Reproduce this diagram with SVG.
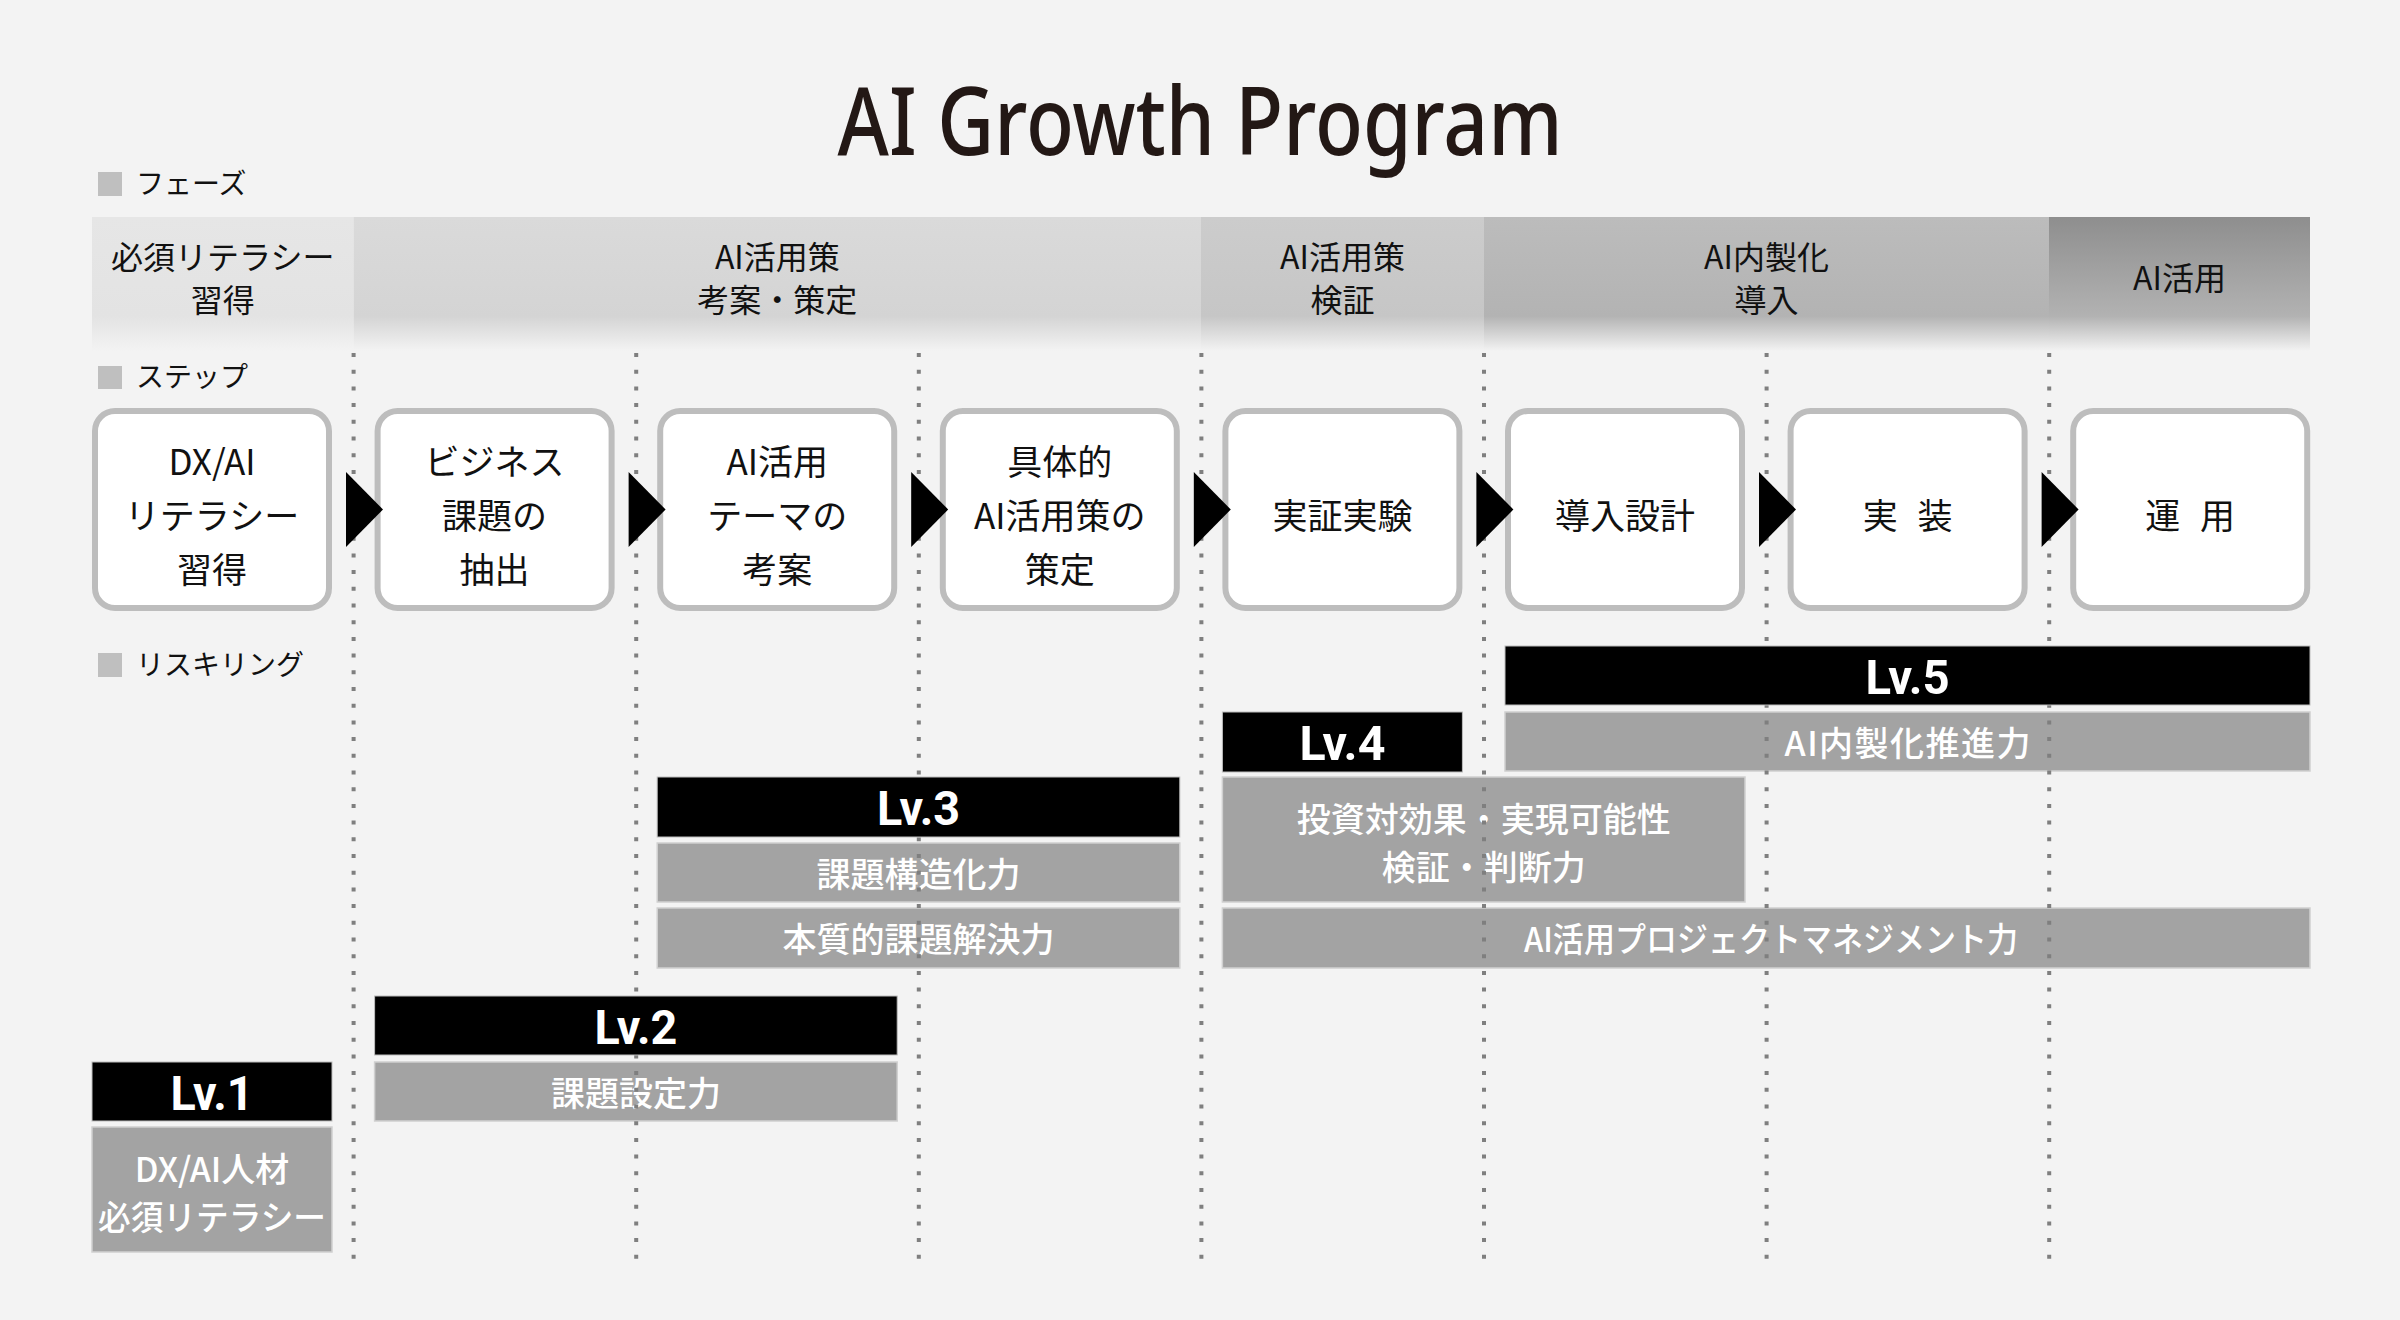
<svg xmlns="http://www.w3.org/2000/svg" width="2400" height="1320" viewBox="0 0 2400 1320">
<defs>
<linearGradient id="g1" x1="0" y1="0" x2="0" y2="1"><stop offset="0" stop-color="#e6e6e6"/><stop offset="0.74" stop-color="#e3e3e3"/><stop offset="1" stop-color="#f3f3f3"/></linearGradient>
<linearGradient id="g2" x1="0" y1="0" x2="0" y2="1"><stop offset="0" stop-color="#dadada"/><stop offset="0.74" stop-color="#d4d4d4"/><stop offset="1" stop-color="#f3f3f3"/></linearGradient>
<linearGradient id="g3" x1="0" y1="0" x2="0" y2="1"><stop offset="0" stop-color="#cccccc"/><stop offset="0.74" stop-color="#c6c6c6"/><stop offset="1" stop-color="#f3f3f3"/></linearGradient>
<linearGradient id="g4" x1="0" y1="0" x2="0" y2="1"><stop offset="0" stop-color="#bcbcbc"/><stop offset="0.74" stop-color="#b3b3b3"/><stop offset="1" stop-color="#f3f3f3"/></linearGradient>
<linearGradient id="g5" x1="0" y1="0" x2="0" y2="1"><stop offset="0" stop-color="#8e8e8e"/><stop offset="0.74" stop-color="#b2b2b2"/><stop offset="1" stop-color="#f3f3f3"/></linearGradient>
<style>
.jp{font-family:"Noto Sans CJK JP","Noto Sans",sans-serif}
.lbl{font-size:28px;fill:#111}
.sq{fill:#bfbfbf}
.band{font-size:32px;fill:#111;text-anchor:middle}
.step{font-size:35px;fill:#111;text-anchor:middle}
.box{fill:#fff;stroke:#bdbdbd;stroke-width:6}
.arr{fill:#000}
.lv{fill:#000;stroke:#bdbdbd;stroke-width:1}
.lvt{font-family:Roboto,"Liberation Sans",sans-serif;font-weight:700;font-size:49px;fill:#fff;text-anchor:middle}
.sk{fill:#a3a3a3;stroke:#d0d0d0;stroke-width:1.5}
.skt{font-size:34px;fill:#fff;text-anchor:middle;font-weight:500}
.dot{stroke:#7f7f7f;stroke-width:4;stroke-dasharray:4 12.7;fill:none}
</style>
</defs>
<rect x="0" y="0" width="2400" height="1320" fill="#f3f3f3"/>

<text x="1200" y="155" text-anchor="middle" font-family="'Noto Sans','Open Sans',sans-serif" font-weight="500" font-size="94" fill="#231815" textLength="725" lengthAdjust="spacingAndGlyphs">AI Growth Program</text>

<g id="label-phase"><rect class="sq" x="98" y="172" width="24" height="24"/><text class="jp lbl" x="136" y="194">フェーズ</text></g>
<g id="label-step"><rect class="sq" x="98" y="366" width="24" height="23"/><text class="jp lbl" x="136" y="387">ステップ</text></g>
<g id="label-reskill"><rect class="sq" x="98" y="653" width="24" height="24"/><text class="jp lbl" x="136" y="675">リスキリング</text></g>

<g id="phases">
<g id="phase1"><rect x="92" y="217" width="261.6" height="134" fill="url(#g1)"/><text class="jp band" x="222.8" y="269">必須リテラシー</text><text class="jp band" x="222.8" y="312">習得</text></g>
<g id="phase2"><rect x="353.6" y="217" width="847.4" height="134" fill="url(#g2)"/><text class="jp band" x="777.3" y="269">AI活用策</text><text class="jp band" x="777.3" y="312">考案・策定</text></g>
<g id="phase3"><rect x="1201" y="217" width="283" height="134" fill="url(#g3)"/><text class="jp band" x="1342.5" y="269">AI活用策</text><text class="jp band" x="1342.5" y="312">検証</text></g>
<g id="phase4"><rect x="1484" y="217" width="565" height="134" fill="url(#g4)"/><text class="jp band" x="1766.5" y="269">AI内製化</text><text class="jp band" x="1766.5" y="312">導入</text></g>
<g id="phase5"><rect x="2049" y="217" width="261" height="134" fill="url(#g5)"/><text class="jp band" x="2179.5" y="290">AI活用</text></g>
</g>

<g id="skill-bars">
<g id="lv1-skill"><rect class="sk" x="92" y="1127" width="240" height="125"/><text class="jp skt" x="212" y="1182" font-size="32">DX/AI人材</text><text class="jp skt" x="212" y="1230" font-size="32" textLength="228" lengthAdjust="spacingAndGlyphs">必須リテラシー</text></g>
<g id="lv2-skill"><rect class="sk" x="374.6" y="1062" width="522.6" height="59"/><text class="jp skt" x="635.9" y="1106">課題設定力</text></g>
<g id="lv3-skill1"><rect class="sk" x="657.2" y="843" width="522.6" height="59"/><text class="jp skt" x="918.5" y="887">課題構造化力</text></g>
<g id="lv3-skill2"><rect class="sk" x="657.2" y="908" width="522.6" height="60"/><text class="jp skt" x="918.5" y="952">本質的課題解決力</text></g>
<g id="lv4-skill"><rect class="sk" x="1222.4" y="777" width="522.6" height="125"/><text class="jp skt" x="1483.7" y="832">投資対効果・実現可能性</text><text class="jp skt" x="1483.7" y="880">検証・判断力</text></g>
<g id="lv5-skill"><rect class="sk" x="1505" y="712" width="805" height="59"/><text class="jp skt" x="1907.5" y="756" textLength="246" lengthAdjust="spacing">AI内製化推進力</text></g>
<g id="pm-skill"><rect class="sk" x="1222.4" y="908" width="1087.6" height="60"/><text class="jp skt" x="1771" y="952" textLength="494" lengthAdjust="spacingAndGlyphs">AI活用プロジェクトマネジメント力</text></g>
</g>

<g id="dividers">
<line class="dot" x1="353.6" y1="353" x2="353.6" y2="1262"/>
<line class="dot" x1="636.2" y1="353" x2="636.2" y2="1262"/>
<line class="dot" x1="918.8" y1="353" x2="918.8" y2="1262"/>
<line class="dot" x1="1201.4" y1="353" x2="1201.4" y2="1262"/>
<line class="dot" x1="1484" y1="353" x2="1484" y2="1262"/>
<line class="dot" x1="1766.6" y1="353" x2="1766.6" y2="1262"/>
<line class="dot" x1="2049.2" y1="353" x2="2049.2" y2="1262"/>
</g>

<g id="levels">
<g id="lv1"><rect class="lv" x="92" y="1062" width="240" height="59"/><text class="lvt" x="212" y="1110" textLength="83" lengthAdjust="spacingAndGlyphs">Lv.1</text></g>
<g id="lv2"><rect class="lv" x="374.6" y="996" width="522.6" height="59"/><text class="lvt" x="635.9" y="1044" textLength="83" lengthAdjust="spacingAndGlyphs">Lv.2</text></g>
<g id="lv3"><rect class="lv" x="657.2" y="777" width="522.6" height="60"/><text class="lvt" x="918.5" y="825" textLength="83" lengthAdjust="spacingAndGlyphs">Lv.3</text></g>
<g id="lv4"><rect class="lv" x="1222.4" y="712" width="240" height="60"/><text class="lvt" x="1342.4" y="760" textLength="86" lengthAdjust="spacingAndGlyphs">Lv.4</text></g>
<g id="lv5"><rect class="lv" x="1505" y="646" width="805" height="59"/><text class="lvt" x="1907.5" y="694" textLength="84" lengthAdjust="spacingAndGlyphs">Lv.5</text></g>
</g>

<g id="steps">
<g id="step1"><rect class="box" x="95" y="411" width="234" height="197" rx="20"/><text class="jp step" x="212" y="475">DX/AI</text><text class="jp step" x="212" y="529">リテラシー</text><text class="jp step" x="212" y="583">習得</text></g>
<g id="step2"><rect class="box" x="377.6" y="411" width="234" height="197" rx="20"/><text class="jp step" x="494.6" y="475">ビジネス</text><text class="jp step" x="494.6" y="529">課題の</text><text class="jp step" x="494.6" y="583">抽出</text></g>
<g id="step3"><rect class="box" x="660.2" y="411" width="234" height="197" rx="20"/><text class="jp step" x="777.2" y="475">AI活用</text><text class="jp step" x="777.2" y="529">テーマの</text><text class="jp step" x="777.2" y="583">考案</text></g>
<g id="step4"><rect class="box" x="942.8" y="411" width="234" height="197" rx="20"/><text class="jp step" x="1059.8" y="475">具体的</text><text class="jp step" x="1059.8" y="529">AI活用策の</text><text class="jp step" x="1059.8" y="583">策定</text></g>
<g id="step5"><rect class="box" x="1225.4" y="411" width="234" height="197" rx="20"/><text class="jp step" x="1342.4" y="529">実証実験</text></g>
<g id="step6"><rect class="box" x="1508" y="411" width="234" height="197" rx="20"/><text class="jp step" x="1625" y="529">導入設計</text></g>
<g id="step7"><rect class="box" x="1790.6" y="411" width="234" height="197" rx="20"/><text class="jp step" x="1907.6" y="529" word-spacing="12">実 装</text></g>
<g id="step8"><rect class="box" x="2073.2" y="411" width="234" height="197" rx="20"/><text class="jp step" x="2190.2" y="529" word-spacing="12">運 用</text></g>
</g>

<g id="connectors">
<polygon class="arr" points="346,472 383,509.5 346,547"/>
<polygon class="arr" points="628.6,472 665.6,509.5 628.6,547"/>
<polygon class="arr" points="911.2,472 948.2,509.5 911.2,547"/>
<polygon class="arr" points="1193.8,472 1230.8,509.5 1193.8,547"/>
<polygon class="arr" points="1476.4,472 1513.4,509.5 1476.4,547"/>
<polygon class="arr" points="1759,472 1796,509.5 1759,547"/>
<polygon class="arr" points="2041.6,472 2078.6,509.5 2041.6,547"/>
</g>
</svg>
